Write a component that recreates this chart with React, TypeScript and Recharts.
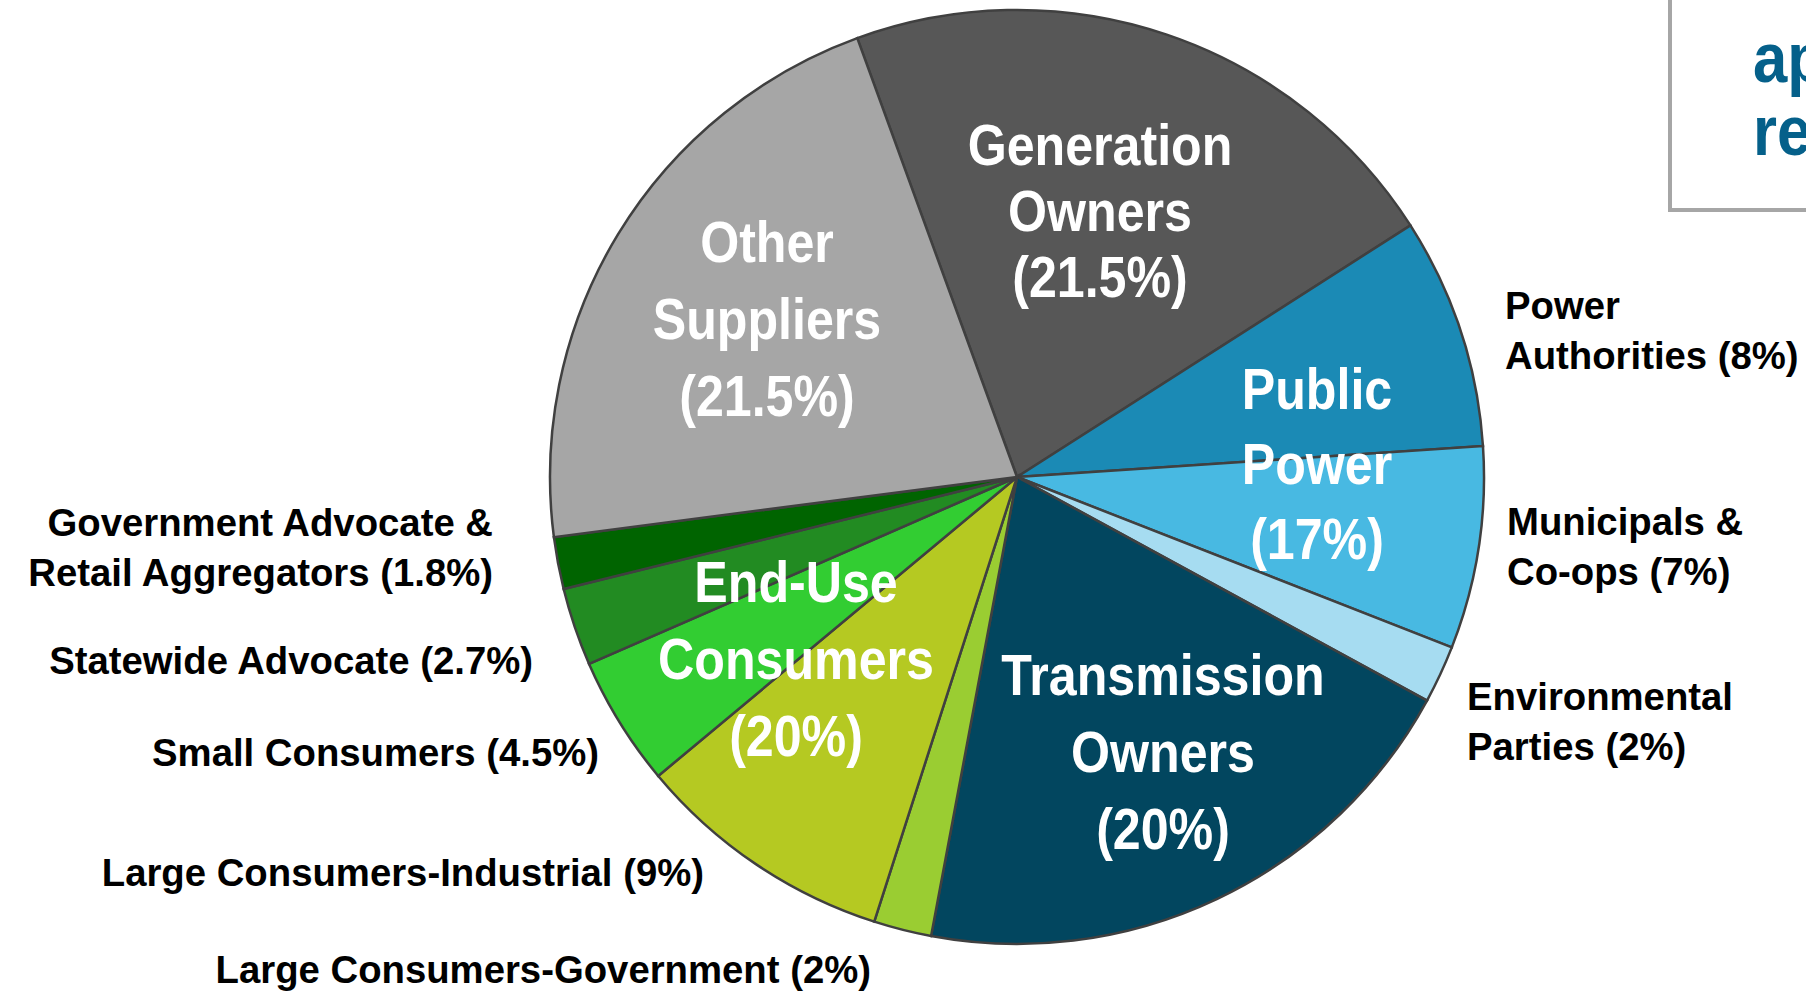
import React from "react";
import { PieChart, Pie, Cell } from "recharts";

// ---- data ----
const sliceNames = [
  "Generation Owners",
  "Power Authorities",
  "Municipals & Co-ops",
  "Environmental Parties",
  "Transmission Owners",
  "Large Consumers-Government",
  "Large Consumers-Industrial",
  "Small Consumers",
  "Statewide Advocate",
  "Government Advocate & Retail Aggregators",
  "Other Suppliers",
];
const sliceValues = [21.5, 8, 7, 2, 20, 2, 9, 4.5, 2.7, 1.8, 21.5];
const sliceColors = [
  "#575757", "#1b8ab5", "#48b9e2", "#a6dcf1", "#02465f",
  "#9acd32", "#b5c922", "#32cd32", "#228b22", "#006400", "#a6a6a6",
];
const sliceLabelLines: string[][] = [
  [],
  ["Power", "Authorities (8%)"],
  ["Municipals &", "Co-ops (7%)"],
  ["Environmental", "Parties (2%)"],
  [],
  ["Large Consumers-Government (2%)"],
  ["Large Consumers-Industrial (9%)"],
  ["Small Consumers (4.5%)"],
  ["Statewide Advocate (2.7%)"],
  ["Government Advocate &", "Retail Aggregators (1.8%)"],
  [],
];

const groupNames = ["Generation Owners", "Public Power", "Transmission Owners", "End-Use Consumers", "Other Suppliers"];
const groupValues = [21.5, 17, 20, 20, 21.5];
const groupLabelLines: string[][] = [
  ["Generation", "Owners", "(21.5%)"],
  ["Public", "Power", "(17%)"],
  ["Transmission", "Owners", "(20%)"],
  ["End-Use", "Consumers", "(20%)"],
  ["Other", "Suppliers", "(21.5%)"],
];

const boxLines = ["ap", "re"];

// ---- layout (positions only) ----
const outerLabelLayout = [
  null,
  { x: 1505, y: 319, anchor: "start" },
  { x: 1507, y: 535, anchor: "start" },
  { x: 1467, y: 710, anchor: "start" },
  null,
  { x: 871, y: 983, anchor: "end" },
  { x: 704, y: 886, anchor: "end" },
  { x: 599, y: 766, anchor: "end" },
  { x: 533, y: 674, anchor: "end" },
  { x: 493, y: 536, anchor: "end" },
  null,
];
const groupLabelLayout = [
  { x: 1100, y: 165, lh: 66 },
  { x: 1317, y: 409, lh: 75 },
  { x: 1163, y: 695, lh: 77 },
  { x: 796, y: 602, lh: 77 },
  { x: 767, y: 262, lh: 77 },
];

const W = 1806;
const H = 991;

const sliceData = sliceNames.map((name, i) => ({ name, value: sliceValues[i] }));
const groupData = groupNames.map((name, i) => ({ name, value: groupValues[i] }));

const font = "'Liberation Sans', Arial, sans-serif";
const NARROW = 0.88;

const renderSliceLabel = (props: any) => {
  const i = props.index;
  const lay = outerLabelLayout[i];
  const lines = sliceLabelLines[i];
  if (!lay || !lines.length) return null;
  return (
    <text
      key={"sl" + i}
      x={lay.x}
      y={lay.y}
      textAnchor={lay.anchor}
      fontFamily={font}
      fontWeight="bold"
      fontSize={38.3}
      fill="#000"
    >
      {lines.map((l, k) => (
        <tspan key={k} x={lay.x} dy={k === 0 ? 0 : 50}>
          {l}
        </tspan>
      ))}
    </text>
  );
};

const renderGroupLabel = (props: any) => {
  const i = props.index;
  const lay = groupLabelLayout[i];
  const lines = groupLabelLines[i];
  return (
    <g key={"gl" + i} transform={`translate(${lay.x},${lay.y}) scale(${NARROW},1)`}>
      <text
        x={0}
        y={0}
        textAnchor="middle"
        fontFamily={font}
        fontWeight="bold"
        fontSize={57}
        fill="#ffffff"
      >
        {lines.map((l, k) => (
          <tspan key={k} x={0} dy={k === 0 ? 0 : lay.lh}>
            {l}
          </tspan>
        ))}
      </text>
    </g>
  );
};

export default function App() {
  return (
    <div style={{ position: "absolute", left: 0, top: 0, width: W, height: H, background: "#fff", overflow: "hidden" }}>
      <PieChart width={W} height={H} margin={{ top: 0, right: 0, bottom: 0, left: 0 }}>
        <Pie
          data={sliceData}
          dataKey="value"
          nameKey="name"
          cx={1017}
          cy={477}
          outerRadius={467}
          innerRadius={0}
          startAngle={110}
          endAngle={-250}
          stroke="#404040"
          strokeWidth={2.5}
          isAnimationActive={false}
          label={renderSliceLabel}
          labelLine={false}
        >
          {sliceData.map((d, i) => (
            <Cell key={d.name} fill={sliceColors[i]} stroke="#404040" strokeWidth={2.5} />
          ))}
        </Pie>
        <Pie
          data={groupData}
          dataKey="value"
          nameKey="name"
          cx={1017}
          cy={477}
          outerRadius={467}
          innerRadius={0}
          startAngle={110}
          endAngle={-250}
          fill="none"
          stroke="none"
          isAnimationActive={false}
          label={renderGroupLabel}
          labelLine={false}
        >
          {groupData.map((d) => (
            <Cell key={d.name} fill="none" stroke="none" />
          ))}
        </Pie>
      </PieChart>
      <svg width={W} height={H} style={{ position: "absolute", left: 0, top: 0, pointerEvents: "none" }}>
        <rect x={1670} y={-20} width={300} height={230} fill="#fff" stroke="#a6a6a6" strokeWidth={4} />
        {boxLines.map((l, k) => (
          <g key={l} transform={`translate(1753,${82 + k * 73}) scale(${NARROW},1)`}>
            <text x={0} y={0} fontFamily={font} fontWeight="bold" fontSize={70} fill="#05608a">
              {l}
            </text>
          </g>
        ))}
      </svg>
    </div>
  );
}
